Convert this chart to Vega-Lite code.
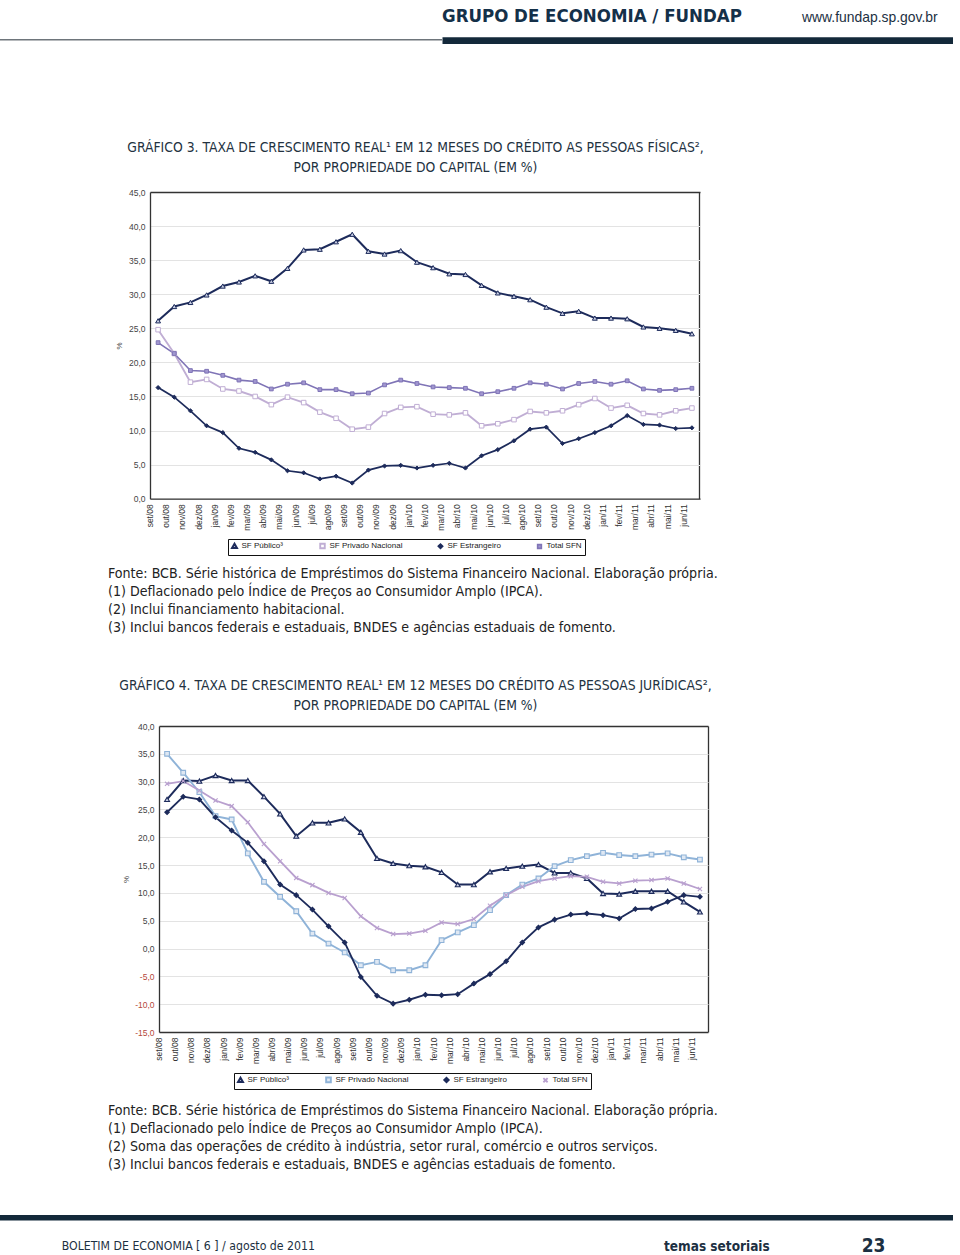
{
  "$schema": "https://vega.github.io/schema/vega-lite/v6.json",
  "padding": 0,
  "spacing": 0,
  "bounds": "flush",
  "background": "white",
  "resolve": {"scale": {"stroke": "independent", "fill": "independent", "shape": "independent", "size": "independent", "strokeWidth": "independent"}},
  "config": {
    "view": {"stroke": null},
    "locale": {"number": {"decimal": ",", "thousands": ".", "grouping": [3], "currency": ["R$", ""], "minus": "-"}},
    "axis": {"labelFont": "Liberation Sans", "titleFont": "Liberation Sans"},
    "legend": {"labelFont": "Liberation Sans"}
  },
  "datasets": {
    "pf": [
      {"mes": "set/08", "SF Público³": 26.1, "SF Privado Nacional": 24.8, "SF Estrangeiro": 16.3, "Total SFN": 22.9},
      {"mes": "out/08", "SF Público³": 28.2, "SF Privado Nacional": 21.3, "SF Estrangeiro": 14.9, "Total SFN": 21.3},
      {"mes": "nov/08", "SF Público³": 28.8, "SF Privado Nacional": 17.1, "SF Estrangeiro": 12.9, "Total SFN": 18.8},
      {"mes": "dez/08", "SF Público³": 29.9, "SF Privado Nacional": 17.5, "SF Estrangeiro": 10.7, "Total SFN": 18.7},
      {"mes": "jan/09", "SF Público³": 31.2, "SF Privado Nacional": 16.1, "SF Estrangeiro": 9.7, "Total SFN": 18.1},
      {"mes": "fev/09", "SF Público³": 31.8, "SF Privado Nacional": 15.8, "SF Estrangeiro": 7.4, "Total SFN": 17.4},
      {"mes": "mar/09", "SF Público³": 32.7, "SF Privado Nacional": 15.0, "SF Estrangeiro": 6.8, "Total SFN": 17.2},
      {"mes": "abr/09", "SF Público³": 31.9, "SF Privado Nacional": 13.8, "SF Estrangeiro": 5.7, "Total SFN": 16.1},
      {"mes": "mai/09", "SF Público³": 33.8, "SF Privado Nacional": 14.9, "SF Estrangeiro": 4.1, "Total SFN": 16.8},
      {"mes": "jun/09", "SF Público³": 36.5, "SF Privado Nacional": 14.1, "SF Estrangeiro": 3.8, "Total SFN": 17.0},
      {"mes": "jul/09", "SF Público³": 36.6, "SF Privado Nacional": 12.7, "SF Estrangeiro": 2.9, "Total SFN": 16.0},
      {"mes": "ago/09", "SF Público³": 37.7, "SF Privado Nacional": 11.8, "SF Estrangeiro": 3.3, "Total SFN": 16.0},
      {"mes": "set/09", "SF Público³": 38.8, "SF Privado Nacional": 10.2, "SF Estrangeiro": 2.3, "Total SFN": 15.4},
      {"mes": "out/09", "SF Público³": 36.3, "SF Privado Nacional": 10.5, "SF Estrangeiro": 4.2, "Total SFN": 15.5},
      {"mes": "nov/09", "SF Público³": 35.9, "SF Privado Nacional": 12.5, "SF Estrangeiro": 4.8, "Total SFN": 16.7},
      {"mes": "dez/09", "SF Público³": 36.4, "SF Privado Nacional": 13.4, "SF Estrangeiro": 4.9, "Total SFN": 17.4},
      {"mes": "jan/10", "SF Público³": 34.7, "SF Privado Nacional": 13.5, "SF Estrangeiro": 4.5, "Total SFN": 16.9},
      {"mes": "fev/10", "SF Público³": 33.9, "SF Privado Nacional": 12.4, "SF Estrangeiro": 4.9, "Total SFN": 16.4},
      {"mes": "mar/10", "SF Público³": 33.0, "SF Privado Nacional": 12.3, "SF Estrangeiro": 5.2, "Total SFN": 16.3},
      {"mes": "abr/10", "SF Público³": 32.9, "SF Privado Nacional": 12.6, "SF Estrangeiro": 4.5, "Total SFN": 16.2},
      {"mes": "mai/10", "SF Público³": 31.3, "SF Privado Nacional": 10.7, "SF Estrangeiro": 6.3, "Total SFN": 15.4},
      {"mes": "jun/10", "SF Público³": 30.2, "SF Privado Nacional": 11.0, "SF Estrangeiro": 7.2, "Total SFN": 15.7},
      {"mes": "jul/10", "SF Público³": 29.7, "SF Privado Nacional": 11.6, "SF Estrangeiro": 8.5, "Total SFN": 16.2},
      {"mes": "ago/10", "SF Público³": 29.2, "SF Privado Nacional": 12.8, "SF Estrangeiro": 10.2, "Total SFN": 17.0},
      {"mes": "set/10", "SF Público³": 28.1, "SF Privado Nacional": 12.6, "SF Estrangeiro": 10.5, "Total SFN": 16.8},
      {"mes": "out/10", "SF Público³": 27.2, "SF Privado Nacional": 12.9, "SF Estrangeiro": 8.1, "Total SFN": 16.1},
      {"mes": "nov/10", "SF Público³": 27.5, "SF Privado Nacional": 13.8, "SF Estrangeiro": 8.8, "Total SFN": 16.9},
      {"mes": "dez/10", "SF Público³": 26.5, "SF Privado Nacional": 14.7, "SF Estrangeiro": 9.7, "Total SFN": 17.2},
      {"mes": "jan/11", "SF Público³": 26.5, "SF Privado Nacional": 13.3, "SF Estrangeiro": 10.7, "Total SFN": 16.8},
      {"mes": "fev/11", "SF Público³": 26.4, "SF Privado Nacional": 13.7, "SF Estrangeiro": 12.2, "Total SFN": 17.3},
      {"mes": "mar/11", "SF Público³": 25.2, "SF Privado Nacional": 12.5, "SF Estrangeiro": 10.9, "Total SFN": 16.1},
      {"mes": "abr/11", "SF Público³": 25.0, "SF Privado Nacional": 12.3, "SF Estrangeiro": 10.8, "Total SFN": 15.9},
      {"mes": "mai/11", "SF Público³": 24.7, "SF Privado Nacional": 12.9, "SF Estrangeiro": 10.3, "Total SFN": 16.0},
      {"mes": "jun/11", "SF Público³": 24.2, "SF Privado Nacional": 13.3, "SF Estrangeiro": 10.4, "Total SFN": 16.2}
    ],
    "pj": [
      {"mes": "set/08", "SF Público³": 26.8, "SF Privado Nacional": 35.0, "SF Estrangeiro": 24.5, "Total SFN": 29.6},
      {"mes": "out/08", "SF Público³": 30.2, "SF Privado Nacional": 31.6, "SF Estrangeiro": 27.3, "Total SFN": 30.1},
      {"mes": "nov/08", "SF Público³": 30.1, "SF Privado Nacional": 28.1, "SF Estrangeiro": 26.8, "Total SFN": 28.4},
      {"mes": "dez/08", "SF Público³": 31.1, "SF Privado Nacional": 23.8, "SF Estrangeiro": 23.6, "Total SFN": 26.6},
      {"mes": "jan/09", "SF Público³": 30.2, "SF Privado Nacional": 23.2, "SF Estrangeiro": 21.2, "Total SFN": 25.6},
      {"mes": "fev/09", "SF Público³": 30.2, "SF Privado Nacional": 17.1, "SF Estrangeiro": 19.0, "Total SFN": 22.7},
      {"mes": "mar/09", "SF Público³": 27.3, "SF Privado Nacional": 12.0, "SF Estrangeiro": 15.7, "Total SFN": 18.8},
      {"mes": "abr/09", "SF Público³": 24.2, "SF Privado Nacional": 9.3, "SF Estrangeiro": 11.5, "Total SFN": 15.7},
      {"mes": "mai/09", "SF Público³": 20.2, "SF Privado Nacional": 6.7, "SF Estrangeiro": 9.6, "Total SFN": 12.7},
      {"mes": "jun/09", "SF Público³": 22.6, "SF Privado Nacional": 2.7, "SF Estrangeiro": 7.0, "Total SFN": 11.4},
      {"mes": "jul/09", "SF Público³": 22.6, "SF Privado Nacional": 0.9, "SF Estrangeiro": 4.0, "Total SFN": 10.0},
      {"mes": "ago/09", "SF Público³": 23.3, "SF Privado Nacional": -0.7, "SF Estrangeiro": 1.1, "Total SFN": 9.1},
      {"mes": "set/09", "SF Público³": 20.9, "SF Privado Nacional": -3.0, "SF Estrangeiro": -5.1, "Total SFN": 5.8},
      {"mes": "out/09", "SF Público³": 16.2, "SF Privado Nacional": -2.4, "SF Estrangeiro": -8.5, "Total SFN": 3.7},
      {"mes": "nov/09", "SF Público³": 15.3, "SF Privado Nacional": -3.9, "SF Estrangeiro": -9.9, "Total SFN": 2.6},
      {"mes": "dez/09", "SF Público³": 14.9, "SF Privado Nacional": -3.9, "SF Estrangeiro": -9.2, "Total SFN": 2.7},
      {"mes": "jan/10", "SF Público³": 14.7, "SF Privado Nacional": -3.0, "SF Estrangeiro": -8.3, "Total SFN": 3.2},
      {"mes": "fev/10", "SF Público³": 13.7, "SF Privado Nacional": 1.5, "SF Estrangeiro": -8.4, "Total SFN": 4.7},
      {"mes": "mar/10", "SF Público³": 11.5, "SF Privado Nacional": 2.9, "SF Estrangeiro": -8.2, "Total SFN": 4.4},
      {"mes": "abr/10", "SF Público³": 11.5, "SF Privado Nacional": 4.2, "SF Estrangeiro": -6.3, "Total SFN": 5.3},
      {"mes": "mai/10", "SF Público³": 13.8, "SF Privado Nacional": 6.9, "SF Estrangeiro": -4.6, "Total SFN": 7.7},
      {"mes": "jun/10", "SF Público³": 14.4, "SF Privado Nacional": 9.6, "SF Estrangeiro": -2.3, "Total SFN": 9.6},
      {"mes": "jul/10", "SF Público³": 14.8, "SF Privado Nacional": 11.5, "SF Estrangeiro": 1.1, "Total SFN": 11.1},
      {"mes": "ago/10", "SF Público³": 15.1, "SF Privado Nacional": 12.6, "SF Estrangeiro": 3.8, "Total SFN": 12.1},
      {"mes": "set/10", "SF Público³": 13.6, "SF Privado Nacional": 14.8, "SF Estrangeiro": 5.2, "Total SFN": 12.6},
      {"mes": "out/10", "SF Público³": 13.6, "SF Privado Nacional": 15.9, "SF Estrangeiro": 6.1, "Total SFN": 13.0},
      {"mes": "nov/10", "SF Público³": 12.6, "SF Privado Nacional": 16.6, "SF Estrangeiro": 6.3, "Total SFN": 12.9},
      {"mes": "dez/10", "SF Público³": 9.9, "SF Privado Nacional": 17.2, "SF Estrangeiro": 6.0, "Total SFN": 12.0},
      {"mes": "jan/11", "SF Público³": 9.8, "SF Privado Nacional": 16.8, "SF Estrangeiro": 5.4, "Total SFN": 11.7},
      {"mes": "fev/11", "SF Público³": 10.3, "SF Privado Nacional": 16.6, "SF Estrangeiro": 7.1, "Total SFN": 12.2},
      {"mes": "mar/11", "SF Público³": 10.3, "SF Privado Nacional": 16.9, "SF Estrangeiro": 7.2, "Total SFN": 12.3},
      {"mes": "abr/11", "SF Público³": 10.3, "SF Privado Nacional": 17.1, "SF Estrangeiro": 8.4, "Total SFN": 12.6},
      {"mes": "mai/11", "SF Público³": 8.4, "SF Privado Nacional": 16.4, "SF Estrangeiro": 9.6, "Total SFN": 11.7},
      {"mes": "jun/11", "SF Público³": 6.6, "SF Privado Nacional": 16.0, "SF Estrangeiro": 9.3, "Total SFN": 10.7}
    ]
  },
  "vconcat": [
    {"width": 953, "height": 1, "data": {"values": []}, "mark": "point",
     "title": {"text": "GRUPO DE ECONOMIA / FUNDAP", "orient": "bottom", "anchor": "start", "frame": "group", "baseline": "alphabetic", "offset": 20.7, "dx": 442, "font": "DejaVu Sans Condensed", "fontSize": 18.5, "fontWeight": "bold", "color": "#143049"}},
    {"width": 953, "height": 1, "data": {"values": []}, "mark": "point",
     "title": {"text": "www.fundap.sp.gov.br", "orient": "bottom", "anchor": "start", "frame": "group", "baseline": "alphabetic", "offset": 20, "dx": 802, "font": "Liberation Sans", "fontSize": 13.9, "fontWeight": "normal", "color": "#1c3042"}},
    {"width": 1, "height": 36.7, "data": {"values": []}, "mark": "point"},
    {"width": 442, "height": 1.6, "data": {"values": []}, "mark": "point", "view": {"fill": "#6e757b", "stroke": null}},
    {"width": 953, "height": 1, "data": {"values": []}, "mark": "point",
     "encoding": {"x": {"field": "a", "type": "quantitative", "scale": {"domain": [0, 1], "range": [442, 953]},
                        "axis": {"orient": "bottom", "labels": false, "ticks": false, "grid": false, "title": null, "domain": true, "domainColor": "#13293a", "domainWidth": 6.7, "offset": -1.95}}}},
    {"width": 831, "height": 1, "data": {"values": []}, "mark": "point",
     "title": {"text": ["GRÁFICO 3. TAXA DE CRESCIMENTO REAL¹ EM 12 MESES DO CRÉDITO AS PESSOAS FÍSICAS²,", "POR PROPRIEDADE DO CAPITAL (EM %)"], "orient": "bottom", "anchor": "middle", "frame": "group", "baseline": "alphabetic", "offset": 108.7, "lineHeight": 20, "font": "DejaVu Sans Condensed", "fontSize": 13.8, "fontWeight": "normal", "color": "#23323f"}},
    {"width": 1, "height": 148.7, "data": {"values": []}, "mark": "point"},
    {
      "width": 700, "height": 306.7,
      "data": {"name": "pf"},
      "encoding": {
        "x": {"field": "mes", "type": "ordinal", "sort": null, "scale": {"type": "band", "paddingInner": 0, "paddingOuter": 0, "range": [150, 700]},
              "axis": {"title": null, "labelAngle": 270, "labelFontSize": 8.5, "labelColor": "#333", "ticks": false, "domain": true, "domainColor": "#333", "domainWidth": 1.3, "labelPadding": 5, "bandPosition": 1, "labelOffset": -8.09,
                       "grid": true, "gridColor": {"condition": {"test": "datum.value === 'jun/11'", "value": "#333"}, "value": "transparent"}, "gridWidth": 1.3}},
        "y": {"field": "valor", "type": "quantitative", "scale": {"domain": [0, 45], "nice": false},
              "axis": {"offset": -150, "title": "%", "titleFontSize": 8, "titleFontWeight": "normal", "titleColor": "#444", "titlePadding": 5, "values": [0, 5, 10, 15, 20, 25, 30, 35, 40, 45], "format": ".1f", "labelFontSize": 8.5, "labelColor": "#444", "ticks": false, "domain": true, "domainColor": "#333", "domainWidth": 1.3, "labelPadding": 5,
                       "gridColor": {"condition": {"test": "datum.value === 45", "value": "#333"}, "value": "#e3e3e3"}, "gridWidth": {"condition": {"test": "datum.value === 45", "value": 1.3}, "value": 1}}}
      },
      "layer": [
        {"transform": [{"fold": ["SF Público³", "SF Privado Nacional", "SF Estrangeiro", "Total SFN"], "as": ["serie", "valor"]}],
         "mark": {"type": "line"},
         "encoding": {
           "stroke": {"field": "serie", "type": "nominal",
                      "scale": {"domain": ["SF Público³", "SF Privado Nacional", "SF Estrangeiro", "Total SFN"], "range": ["#1d2b5b", "#c0aed4", "#1d2b5b", "#7f74b6"]},
                      "legend": {"title": null, "orient": "none", "legendX": 228, "legendY": 347, "direction": "horizontal", "strokeColor": "#111", "padding": 2.5, "labelFontSize": 8, "labelColor": "#222", "labelOffset": 3, "columnPadding": 32, "symbolSize": 400, "symbolStrokeWidth": 1.6, "symbolType": "M-1,0H1M-0.2,-0.2H0.2V0.2H-0.2Z", "symbolFillColor": "#ffffff"}},
           "strokeWidth": {"field": "serie", "type": "nominal", "scale": {"domain": ["SF Público³", "SF Privado Nacional", "SF Estrangeiro", "Total SFN"], "range": [2, 1.6, 2, 2]}, "legend": null}
         }},
        {"transform": [{"fold": ["SF Público³", "SF Privado Nacional", "SF Estrangeiro", "Total SFN"], "as": ["serie2", "valor"]}],
         "mark": {"type": "point", "opacity": 1, "strokeWidth": 1},
         "encoding": {
           "stroke": {"field": "serie2", "type": "nominal", "legend": null},
           "shape": {"field": "serie2", "type": "nominal", "scale": {"domain": ["SF Público³", "SF Privado Nacional", "SF Estrangeiro", "Total SFN"], "range": ["triangle-up", "square", "diamond", "square"]}, "legend": null},
           "fill": {"field": "serie2", "type": "nominal", "scale": {"domain": ["SF Público³", "SF Privado Nacional", "SF Estrangeiro", "Total SFN"], "range": ["#c7cde3", "#ffffff", "#1d2b5b", "#a197d0"]}, "legend": null},
           "size": {"field": "serie2", "type": "nominal", "scale": {"domain": ["SF Público³", "SF Privado Nacional", "SF Estrangeiro", "Total SFN"], "range": [24, 14, 20, 42]}, "legend": null}
         }}
      ]
    },
    {"width": 1, "height": 62.3, "data": {"values": []}, "mark": "point"},
    {"width": 760, "height": 1, "data": {"values": []}, "mark": "point",
     "title": {"text": ["Fonte: BCB. Série histórica de Empréstimos do Sistema Financeiro Nacional. Elaboração própria.", "(1) Deflacionado pelo Índice de Preços ao Consumidor Amplo (IPCA).", "(2) Inclui financiamento habitacional.", "(3) Inclui bancos federais e estaduais, BNDES e agências estaduais de fomento."],
               "orient": "bottom", "anchor": "start", "frame": "group", "baseline": "alphabetic", "offset": 15, "dx": 108, "lineHeight": 18, "font": "DejaVu Sans Condensed", "fontSize": 14.1, "fontWeight": "normal", "color": "#222222"}},
    {"width": 831, "height": 1, "data": {"values": []}, "mark": "point",
     "title": {"text": ["GRÁFICO 4. TAXA DE CRESCIMENTO REAL¹ EM 12 MESES DO CRÉDITO AS PESSOAS JURÍDICAS²,", "POR PROPRIEDADE DO CAPITAL (EM %)"], "orient": "bottom", "anchor": "middle", "frame": "group", "baseline": "alphabetic", "offset": 126, "lineHeight": 20, "font": "DejaVu Sans Condensed", "fontSize": 13.8, "fontWeight": "normal", "color": "#23323f"}},
    {"width": 1, "height": 162, "data": {"values": []}, "mark": "point"},
    {
      "width": 708, "height": 306,
      "data": {"name": "pj"},
      "encoding": {
        "x": {"field": "mes", "type": "ordinal", "sort": null, "scale": {"type": "band", "paddingInner": 0, "paddingOuter": 0, "range": [159, 708]},
              "axis": {"title": null, "labelAngle": 270, "labelFontSize": 8.5, "labelColor": "#333", "ticks": false, "domain": true, "domainColor": "#333", "domainWidth": 1.3, "labelPadding": 5, "bandPosition": 1, "labelOffset": -8.07,
                       "grid": true, "gridColor": {"condition": {"test": "datum.value === 'jun/11'", "value": "#333"}, "value": "transparent"}, "gridWidth": 1.3}},
        "y": {"field": "valor", "type": "quantitative", "scale": {"domain": [-15, 40], "nice": false},
              "axis": {"offset": -159, "title": "%", "titleFontSize": 8, "titleFontWeight": "normal", "titleColor": "#444", "titlePadding": 4, "values": [-15, -10, -5, 0, 5, 10, 15, 20, 25, 30, 35, 40], "format": ".1f", "labelFontSize": 8.5, "labelColor": {"condition": {"test": "datum.value < 0", "value": "#b5483a"}, "value": "#444"}, "ticks": false, "domain": true, "domainColor": "#333", "domainWidth": 1.3, "labelPadding": 5,
                       "gridColor": {"condition": {"test": "datum.value === 40", "value": "#333"}, "value": "#e3e3e3"}, "gridWidth": {"condition": {"test": "datum.value === 40", "value": 1.3}, "value": 1}}}
      },
      "layer": [
        {"transform": [{"fold": ["SF Público³", "SF Privado Nacional", "SF Estrangeiro", "Total SFN"], "as": ["serie", "valor"]}],
         "mark": {"type": "line"},
         "encoding": {
           "stroke": {"field": "serie", "type": "nominal",
                      "scale": {"domain": ["SF Público³", "SF Privado Nacional", "SF Estrangeiro", "Total SFN"], "range": ["#1d2b5b", "#8fb3d8", "#1d2b5b", "#b9a0cf"]},
                      "legend": {"title": null, "orient": "none", "legendX": 234, "legendY": 347, "direction": "horizontal", "strokeColor": "#111", "padding": 2.5, "labelFontSize": 8, "labelColor": "#222", "labelOffset": 3, "columnPadding": 32, "symbolSize": 400, "symbolStrokeWidth": 1.6, "symbolType": "M-1,0H1M-0.2,-0.2H0.2V0.2H-0.2Z", "symbolFillColor": "#ffffff"}},
           "strokeWidth": {"field": "serie", "type": "nominal", "scale": {"domain": ["SF Público³", "SF Privado Nacional", "SF Estrangeiro", "Total SFN"], "range": [2, 1.8, 2, 2]}, "legend": null}
         }},
        {"transform": [{"fold": ["SF Público³", "SF Privado Nacional", "SF Estrangeiro", "Total SFN"], "as": ["serie2", "valor"]}],
         "mark": {"type": "point", "opacity": 1, "strokeWidth": 1.1},
         "encoding": {
           "stroke": {"field": "serie2", "type": "nominal", "legend": null},
           "shape": {"field": "serie2", "type": "nominal", "scale": {"domain": ["SF Público³", "SF Privado Nacional", "SF Estrangeiro", "Total SFN"], "range": ["triangle-up", "square", "diamond", "M-1,-1L1,1M-1,1L1,-1"]}, "legend": null},
           "fill": {"field": "serie2", "type": "nominal", "scale": {"domain": ["SF Público³", "SF Privado Nacional", "SF Estrangeiro", "Total SFN"], "range": ["#c7cde3", "#dfe8f3", "#1d2b5b", "transparent"]}, "legend": null},
           "size": {"field": "serie2", "type": "nominal", "scale": {"domain": ["SF Público³", "SF Privado Nacional", "SF Estrangeiro", "Total SFN"], "range": [24, 18, 20, 36]}, "legend": null}
         }}
      ]
    },
    {"width": 1, "height": 65, "data": {"values": []}, "mark": "point"},
    {"width": 760, "height": 1, "data": {"values": []}, "mark": "point",
     "title": {"text": ["Fonte: BCB. Série histórica de Empréstimos do Sistema Financeiro Nacional. Elaboração própria.", "(1) Deflacionado pelo Índice de Preços ao Consumidor Amplo (IPCA).", "(2) Soma das operações de crédito à indústria, setor rural, comércio e outros serviços.", "(3) Inclui bancos federais e estaduais, BNDES e agências estaduais de fomento."],
               "orient": "bottom", "anchor": "start", "frame": "group", "baseline": "alphabetic", "offset": 17, "dx": 108, "lineHeight": 18, "font": "DejaVu Sans Condensed", "fontSize": 14.1, "fontWeight": "normal", "color": "#222222"}},
    {"width": 1, "height": 116.3, "data": {"values": []}, "mark": "point"},
    {"width": 953, "height": 5.4, "data": {"values": []}, "mark": "point", "view": {"fill": "#13293a", "stroke": null},
     "title": {"text": "BOLETIM DE ECONOMIA [ 6 ] / agosto de 2011", "orient": "bottom", "anchor": "start", "frame": "group", "baseline": "alphabetic", "offset": 30, "dx": 61.7, "font": "DejaVu Sans Condensed", "fontSize": 12.2, "fontWeight": "normal", "color": "#1c3042"}},
    {"width": 953, "height": 1, "data": {"values": []}, "mark": "point",
     "title": {"text": "temas setoriais", "orient": "bottom", "anchor": "start", "frame": "group", "baseline": "alphabetic", "offset": 29, "dx": 664, "font": "DejaVu Sans Condensed", "fontSize": 13.5, "fontWeight": "bold", "color": "#1c3042"}},
    {"width": 953, "height": 1, "data": {"values": []}, "mark": "point",
     "title": {"text": "23", "orient": "bottom", "anchor": "start", "frame": "group", "baseline": "alphabetic", "offset": 28.5, "dx": 861.7, "font": "DejaVu Sans Condensed", "fontSize": 19, "fontWeight": "bold", "color": "#1c3042"}}
  ]
}
